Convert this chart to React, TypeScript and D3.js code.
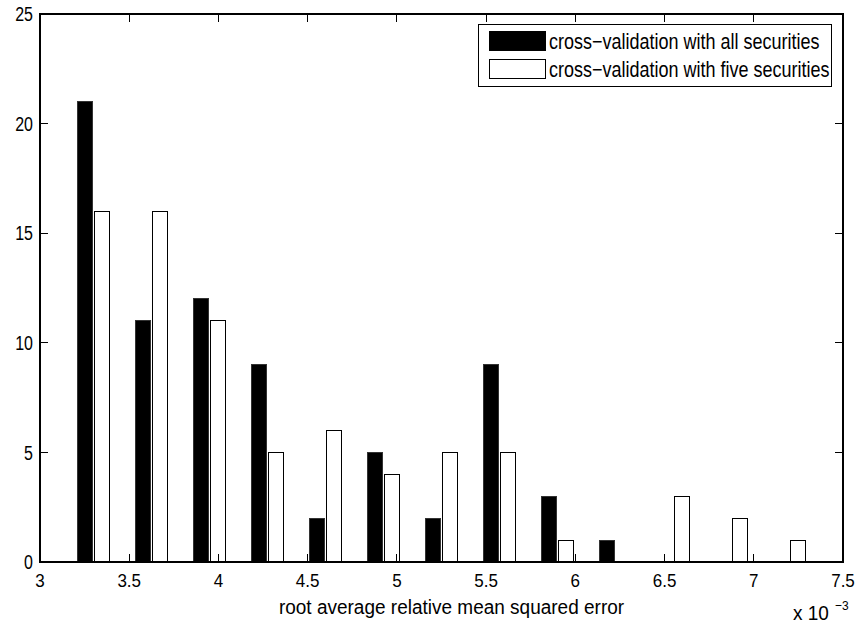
import * as d3 from 'd3';

// bin centres (x 10^-3) and counts per method
const binCenters = [3.30, 3.625, 3.95, 4.275, 4.60, 4.925, 5.25, 5.575, 5.90, 6.225, 6.55, 6.875, 7.20];
const allSecurities = [21, 11, 12, 9, 2, 5, 2, 9, 3, 1, 0, 0, 0];
const fiveSecurities = [16, 16, 11, 5, 6, 4, 5, 5, 1, 0, 3, 2, 1];
const xTicks = [3, 3.5, 4, 4.5, 5, 5.5, 6, 6.5, 7, 7.5];
const yTicks = [0, 5, 10, 15, 20, 25];
const seriesNames = ['cross\u2212validation with all securities', 'cross\u2212validation with five securities'];

const W = 860;
const H = 630;
const margin = { top: 14, right: 17, bottom: 68, left: 40 };
const font = '"Liberation Sans", Arial, Helvetica, sans-serif';

// text stretched vertically, like the tall glyphs of the original figure
function Tall({ x, y, size, sy, anchor = 'start', children }: any) {
  return (
    <text transform={`translate(${x},${y}) scale(1,${sy})`} fontSize={size} textAnchor={anchor} dominantBaseline="central">
      {children}
    </text>
  );
}

export default function App() {
  const x = d3.scaleLinear().domain([3, 7.5]).range([margin.left, W - margin.right]);
  const y = d3.scaleLinear().domain([0, 25]).range([H - margin.bottom, margin.top]);
  // offsets of the two bars inside a bin, in data units
  const sub = d3.scaleBand<number>().domain([0, 1]).range([-0.088, 0.088]).paddingInner(0.13);
  const bw = x(3 + sub.bandwidth()) - x(3);
  const tickLen = 8;
  const x0 = margin.left, x1 = W - margin.right, y0 = H - margin.bottom, y1 = margin.top;

  const bars = [
    { values: allSecurities, fill: '#000', stroke: '#333', k: 0 },
    { values: fiveSecurities, fill: '#fff', stroke: '#000', k: 1 },
  ];

  return (
    <svg width={W} height={H} style={{ position: 'absolute', left: 0, top: 0, background: '#fff' }} fontFamily={font}>
      {bars.map(s =>
        s.values.map((v, i) => v > 0 ? (
          <rect
            key={`${s.k}-${i}`}
            x={x(binCenters[i] + sub(s.k)!)}
            y={y(v)}
            width={bw}
            height={y(0) - y(v)}
            fill={s.fill}
            stroke={s.stroke}
            strokeWidth={1}
            shapeRendering="crispEdges"
          />
        ) : null)
      )}

      {/* axes box */}
      <rect x={x0} y={y1} width={x1 - x0} height={y0 - y1} fill="none" stroke="#000" strokeWidth={1.2} shapeRendering="crispEdges" />

      {xTicks.map(t => (
        <g key={`xt${t}`}>
          <line x1={x(t)} x2={x(t)} y1={y0} y2={y0 - tickLen} stroke="#000" shapeRendering="crispEdges" />
          <line x1={x(t)} x2={x(t)} y1={y1} y2={y1 + tickLen} stroke="#000" shapeRendering="crispEdges" />
          <Tall x={x(t)} y={y0 + 19} size={17} sy={1.05} anchor="middle">{t}</Tall>
        </g>
      ))}
      {yTicks.map(t => (
        <g key={`yt${t}`}>
          <line x1={x0} x2={x0 + tickLen} y1={y(t)} y2={y(t)} stroke="#000" shapeRendering="crispEdges" />
          <line x1={x1} x2={x1 - tickLen} y1={y(t)} y2={y(t)} stroke="#000" shapeRendering="crispEdges" />
          <Tall x={x0 - 7} y={y(t)} size={16} sy={1.3} anchor="end">{t}</Tall>
        </g>
      ))}

      <Tall x={(x0 + x1) / 2 + 10} y={607} size={19} sy={1.08} anchor="middle">root average relative mean squared error</Tall>
      <Tall x={793} y={613} size={19} sy={1.08}>x 10</Tall>
      <Tall x={835} y={606} size={12} sy={1.1}>{'\u22123'}</Tall>

      {/* legend */}
      <g>
        <rect x={478} y={24} width={353} height={62} fill="#fff" stroke="#000" strokeWidth={1} shapeRendering="crispEdges" />
        {seriesNames.map((n, i) => (
          <g key={n}>
            <rect x={489} y={31 + i * 28} width={56} height={19} fill={i === 0 ? '#000' : '#fff'} stroke="#000" strokeWidth={1} shapeRendering="crispEdges" />
            <Tall x={549} y={41 + i * 28} size={18} sy={1.18}>{n}</Tall>
          </g>
        ))}
      </g>
    </svg>
  );
}
